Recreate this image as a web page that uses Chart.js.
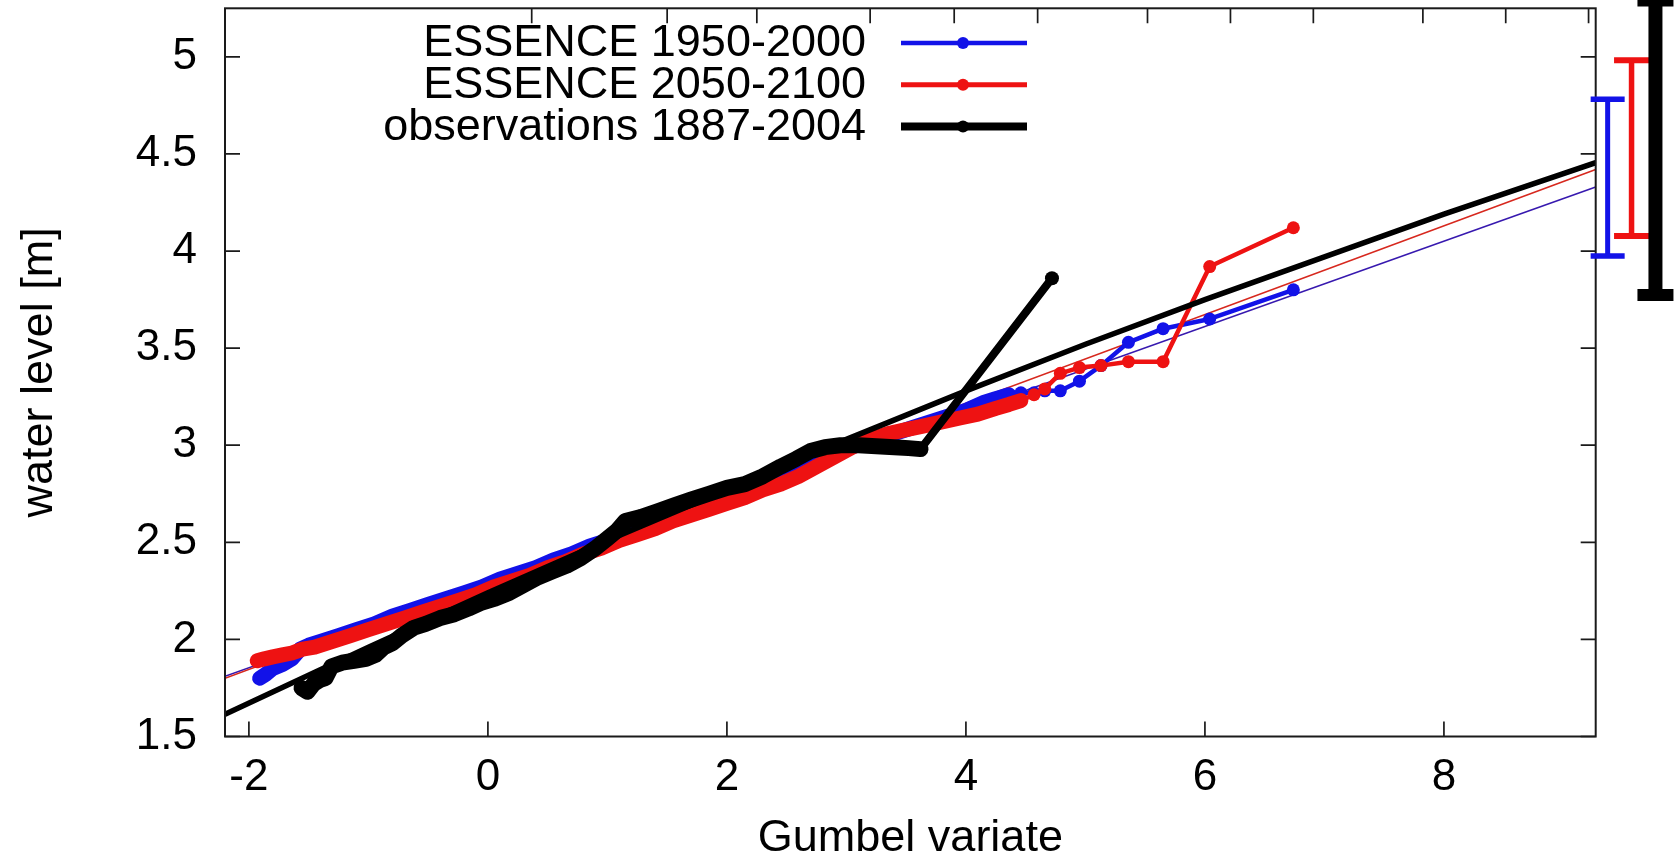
<!DOCTYPE html>
<html><head><meta charset="utf-8">
<script src="https://cdn.jsdelivr.net/npm/chart.js@4.4.1/dist/chart.umd.min.js"></script>
<style>html,body{margin:0;padding:0;background:#fff;overflow:hidden}</style>
</head><body>
<canvas id="c" width="1677" height="860"></canvas>
<script>
// ---------- data ----------
const xTickValues = [-2, 0, 2, 4, 6, 8];
const xTickLabels = ['-2', '0', '2', '4', '6', '8'];
const yTickValues = [1.5, 2, 2.5, 3, 3.5, 4, 4.5, 5];
const yTickLabels = ['1.5', '2', '2.5', '3', '3.5', '4', '4.5', '5'];
const returnPeriods = [2, 5, 10, 25, 50, 100, 250, 500, 1000, 2500, 5000, 10000];

const seriesLabels = ['ESSENCE 1950-2000', 'ESSENCE 2050-2100', 'observations 1887-2004'];

const essHistX = [-1.91,-1.86,-1.80,-1.72,-1.64,-1.57,-1.50,-1.40,-1.25,-1.10,-0.95,-0.80,-0.65,-0.50,-0.35,-0.20,-0.05,0.10,0.25,0.40,0.55,0.70,0.85,1.00,1.15,1.30,1.45,1.60,1.75,1.90,2.05,2.20,2.35,2.50,2.65,2.80,2.95,3.10,3.25,3.40,3.55,3.70,3.85,4.00,4.15,4.25,4.36,4.46,4.57,4.66,4.79,4.95,5.13,5.36,5.65,6.04,6.74];
const essHistY = [1.80,1.82,1.85,1.87,1.90,1.95,1.97,1.99,2.02,2.05,2.08,2.12,2.15,2.18,2.21,2.24,2.27,2.31,2.34,2.37,2.41,2.44,2.48,2.51,2.54,2.57,2.61,2.64,2.67,2.70,2.74,2.77,2.80,2.84,2.91,2.95,2.98,3.00,3.03,3.06,3.09,3.12,3.15,3.18,3.22,3.24,3.26,3.27,3.27,3.28,3.28,3.33,3.41,3.53,3.60,3.65,3.80];

const essFutX = [-1.93,-1.87,-1.80,-1.72,-1.64,-1.55,-1.45,-1.30,-1.15,-1.00,-0.85,-0.70,-0.55,-0.40,-0.25,-0.10,0.05,0.20,0.35,0.50,0.65,0.80,0.95,1.10,1.25,1.40,1.55,1.70,1.85,2.00,2.15,2.30,2.45,2.60,2.75,2.90,3.05,3.20,3.35,3.50,3.65,3.80,3.95,4.10,4.25,4.36,4.46,4.57,4.66,4.79,4.95,5.13,5.36,5.65,6.04,6.74];
const essFutY = [1.89,1.90,1.91,1.92,1.93,1.95,1.96,1.99,2.02,2.05,2.08,2.11,2.14,2.17,2.20,2.23,2.27,2.30,2.33,2.37,2.40,2.44,2.47,2.51,2.54,2.57,2.61,2.64,2.67,2.70,2.73,2.77,2.80,2.84,2.89,2.94,2.99,3.03,3.06,3.08,3.10,3.12,3.14,3.16,3.19,3.21,3.23,3.26,3.29,3.37,3.40,3.41,3.43,3.43,3.92,4.12];

const obsX = [-1.56,-1.51,-1.46,-1.41,-1.36,-1.31,-1.22,-1.12,-1.02,-0.94,-0.87,-0.80,-0.72,-0.62,-0.52,-0.40,-0.28,-0.16,-0.05,0.06,0.18,0.30,0.42,0.54,0.66,0.78,0.90,1.00,1.08,1.15,1.28,1.42,1.56,1.70,1.85,2.00,2.15,2.30,2.45,2.58,2.70,2.82,2.95,3.10,3.25,3.40,3.52,3.62,4.72];
const obsY = [1.75,1.73,1.77,1.79,1.80,1.86,1.88,1.89,1.90,1.92,1.96,1.98,2.02,2.06,2.08,2.11,2.13,2.16,2.19,2.21,2.24,2.28,2.32,2.35,2.38,2.42,2.47,2.52,2.56,2.61,2.63,2.66,2.69,2.72,2.75,2.78,2.80,2.84,2.89,2.93,2.97,2.99,3.00,3.00,2.995,2.99,2.985,2.98,3.86];

// fitted extreme-value curves
const fitObsX = [-2.2, -1, 0, 1, 2, 3, 4, 5, 6, 7, 8, 9.27];
const fitObsY = [1.615, 1.96, 2.24, 2.51, 2.77, 3.03, 3.28, 3.52, 3.75, 3.97, 4.19, 4.455];
const fitEssX = [-2.2, 9.27];
const fitHistY = [1.81, 4.33];
const fitFutY = [1.80, 4.42];

// uncertainty ranges drawn in the right margin
const rangeX = [9.37, 9.57, 9.77];
const rangeLow = [3.974, 4.077, 3.773];
const rangeHigh = [4.781, 4.983, 5.29];

// ---------- style ----------
const FONT = "'Liberation Sans', Arial, Helvetica, sans-serif";
const BLUE = 'rgb(18,18,232)';
const RED = 'rgb(238,18,18)';
const BLACK = '#000';
const TICK = 15;

const pts = (xs, ys) => xs.map((x, i) => ({x, y: ys[i]}));
const gumbelVariate = T => -Math.log(-Math.log(1 - 1 / T));

function bandSeries(label, xs, ys, color, thick, thin, sparseFrom, radius, order) {
  return {
    label, data: pts(xs, ys), showLine: true, borderColor: color, backgroundColor: color,
    borderWidth: thick, borderJoinStyle: 'round', borderCapStyle: 'round', tension: 0,
    segment: { borderWidth: c => (c.p1.parsed.x > sparseFrom ? thin : thick) },
    pointRadius: c => (c.parsed && c.parsed.x > sparseFrom ? radius : 0),
    pointBorderWidth: 0, pointHoverRadius: 0, order
  };
}
function fitSeries(label, xs, ys, color, w, order) {
  return { label, data: pts(xs, ys), showLine: true, borderColor: color, borderWidth: w,
           pointRadius: 0, pointHoverRadius: 0, order, borderCapStyle: 'butt', borderJoinStyle: 'round' };
}

const datasets = [
  fitSeries('fit obs', fitObsX, fitObsY, BLACK, 5.5, 1),
  bandSeries(seriesLabels[2], obsX, obsY, BLACK, 16, 8, 3.63, 7, 2),
  bandSeries(seriesLabels[1], essFutX, essFutY, RED, 15, 4.5, 4.5, 6.5, 3),
  bandSeries(seriesLabels[0], essHistX, essHistY, BLUE, 15, 4.5, 4.4, 6.5, 4),
  fitSeries('fit 2050-2100', fitEssX, fitFutY, 'rgb(215,40,30)', 1.6, 5),
  fitSeries('fit 1950-2000', fitEssX, fitHistY, 'rgb(55,25,175)', 1.6, 6)
];

const framePlugin = {
  id: 'frame',
  afterDatasetsDraw(chart) {
    const {ctx, chartArea: a, scales: {x, y}} = chart;
    ctx.save();
    ctx.strokeStyle = '#1a1a1a';
    ctx.lineWidth = 2;
    ctx.strokeRect(a.left, a.top, a.right - a.left, a.bottom - a.top);
    ctx.lineWidth = 1.7;
    ctx.beginPath();
    xTickValues.forEach(v => { const px = x.getPixelForValue(v); ctx.moveTo(px, a.bottom); ctx.lineTo(px, a.bottom - TICK); });
    returnPeriods.forEach(T => { const px = x.getPixelForValue(gumbelVariate(T)); ctx.moveTo(px, a.top); ctx.lineTo(px, a.top + TICK); });
    yTickValues.forEach(v => {
      const py = y.getPixelForValue(v);
      ctx.moveTo(a.left, py); ctx.lineTo(a.left + TICK, py);
      ctx.moveTo(a.right, py); ctx.lineTo(a.right - TICK, py);
    });
    ctx.stroke();
    ctx.restore();
  }
};

const rangeStyle = [
  {color: BLUE, w: 5, half: 17, capW: 5.5},
  {color: RED, w: 5.5, half: 17.5, capW: 6},
  {color: BLACK, w: 14, half: 18, capW: 12}
];
const rangePlugin = {
  id: 'ranges',
  afterDraw(chart) {
    const {ctx, scales: {x, y}} = chart;
    ctx.save();
    rangeX.forEach((rx, i) => {
      const s = rangeStyle[i];
      const px = x.getPixelForValue(rx);
      const p1 = y.getPixelForValue(rangeLow[i]);
      const p2 = y.getPixelForValue(rangeHigh[i]);
      ctx.strokeStyle = s.color; ctx.lineCap = 'butt';
      ctx.lineWidth = s.w;
      ctx.beginPath(); ctx.moveTo(px, p1); ctx.lineTo(px, p2); ctx.stroke();
      ctx.lineWidth = s.capW;
      ctx.beginPath();
      ctx.moveTo(px - s.half, p1); ctx.lineTo(px + s.half, p1);
      ctx.moveTo(px - s.half, p2); ctx.lineTo(px + s.half, p2);
      ctx.stroke();
    });
    ctx.restore();
  }
};

const legendItems = [
  {label: seriesLabels[0], color: BLUE, lw: 4.5, r: 6},
  {label: seriesLabels[1], color: RED, lw: 5, r: 6},
  {label: seriesLabels[2], color: BLACK, lw: 8, r: 6}
];
const legendPlugin = {
  id: 'keyBox',
  afterDraw(chart) {
    const ctx = chart.ctx;
    ctx.save();
    ctx.font = '45px ' + FONT;
    ctx.textAlign = 'right';
    ctx.textBaseline = 'middle';
    legendItems.forEach((it, i) => {
      const yy = 43 + i * 41.7;
      ctx.fillStyle = '#000';
      ctx.fillText(it.label, 866, yy + 1);
      ctx.strokeStyle = it.color; ctx.lineWidth = it.lw; ctx.lineCap = 'butt';
      ctx.beginPath(); ctx.moveTo(901, yy); ctx.lineTo(1027, yy); ctx.stroke();
      ctx.fillStyle = it.color;
      ctx.beginPath(); ctx.arc(963, yy, it.r, 0, Math.PI * 2); ctx.fill();
    });
    ctx.restore();
  }
};

const noPad = s => { s.paddingTop = 0; s.paddingBottom = 0; s.paddingLeft = 0; s.paddingRight = 0; };

new Chart(document.getElementById('c'), {
  type: 'scatter',
  data: { datasets },
  options: {
    responsive: false, animation: false, events: [],
    layout: { padding: { top: 8.3, right: 81.3, bottom: 0, left: 0 } },
    plugins: { legend: { display: false }, tooltip: { enabled: false } },
    scales: {
      x: {
        type: 'linear', min: -2.2, max: 9.27,
        grid: { display: false, drawTicks: false }, border: { display: false },
        ticks: { font: { family: FONT, size: 44, lineHeight: 1.2 }, color: '#000', padding: 15.4,
                 maxRotation: 0, autoSkip: false,
                 callback: v => { const i = xTickValues.indexOf(v); return i < 0 ? '' : xTickLabels[i]; } },
        afterBuildTicks: s => { s.ticks = xTickValues.map(v => ({value: v})); },
        afterFit: s => { s.height = 123.5; noPad(s); },
        title: { display: true, text: 'Gumbel variate', color: '#000',
                 font: { family: FONT, size: 45, lineHeight: 0.9 }, padding: { top: 0, bottom: 1 } }
      },
      y: {
        type: 'linear', min: 1.5, max: 5.25,
        grid: { display: false, drawTicks: false }, border: { display: false },
        ticks: { font: { family: FONT, size: 44, lineHeight: 1.2 }, color: '#000', padding: 28,
                 autoSkip: false,
                 callback: v => { const i = yTickValues.indexOf(v); return i < 0 ? '' : yTickLabels[i]; } },
        afterBuildTicks: s => { s.ticks = yTickValues.map(v => ({value: v})); },
        afterFit: s => { s.width = 225; noPad(s); },
        title: { display: true, text: 'water level [m]', color: '#000',
                 font: { family: FONT, size: 45, lineHeight: 1.2 }, padding: { top: 13, bottom: 0 } }
      }
    }
  },
  plugins: [framePlugin, rangePlugin, legendPlugin]
});
</script>
</body></html>
